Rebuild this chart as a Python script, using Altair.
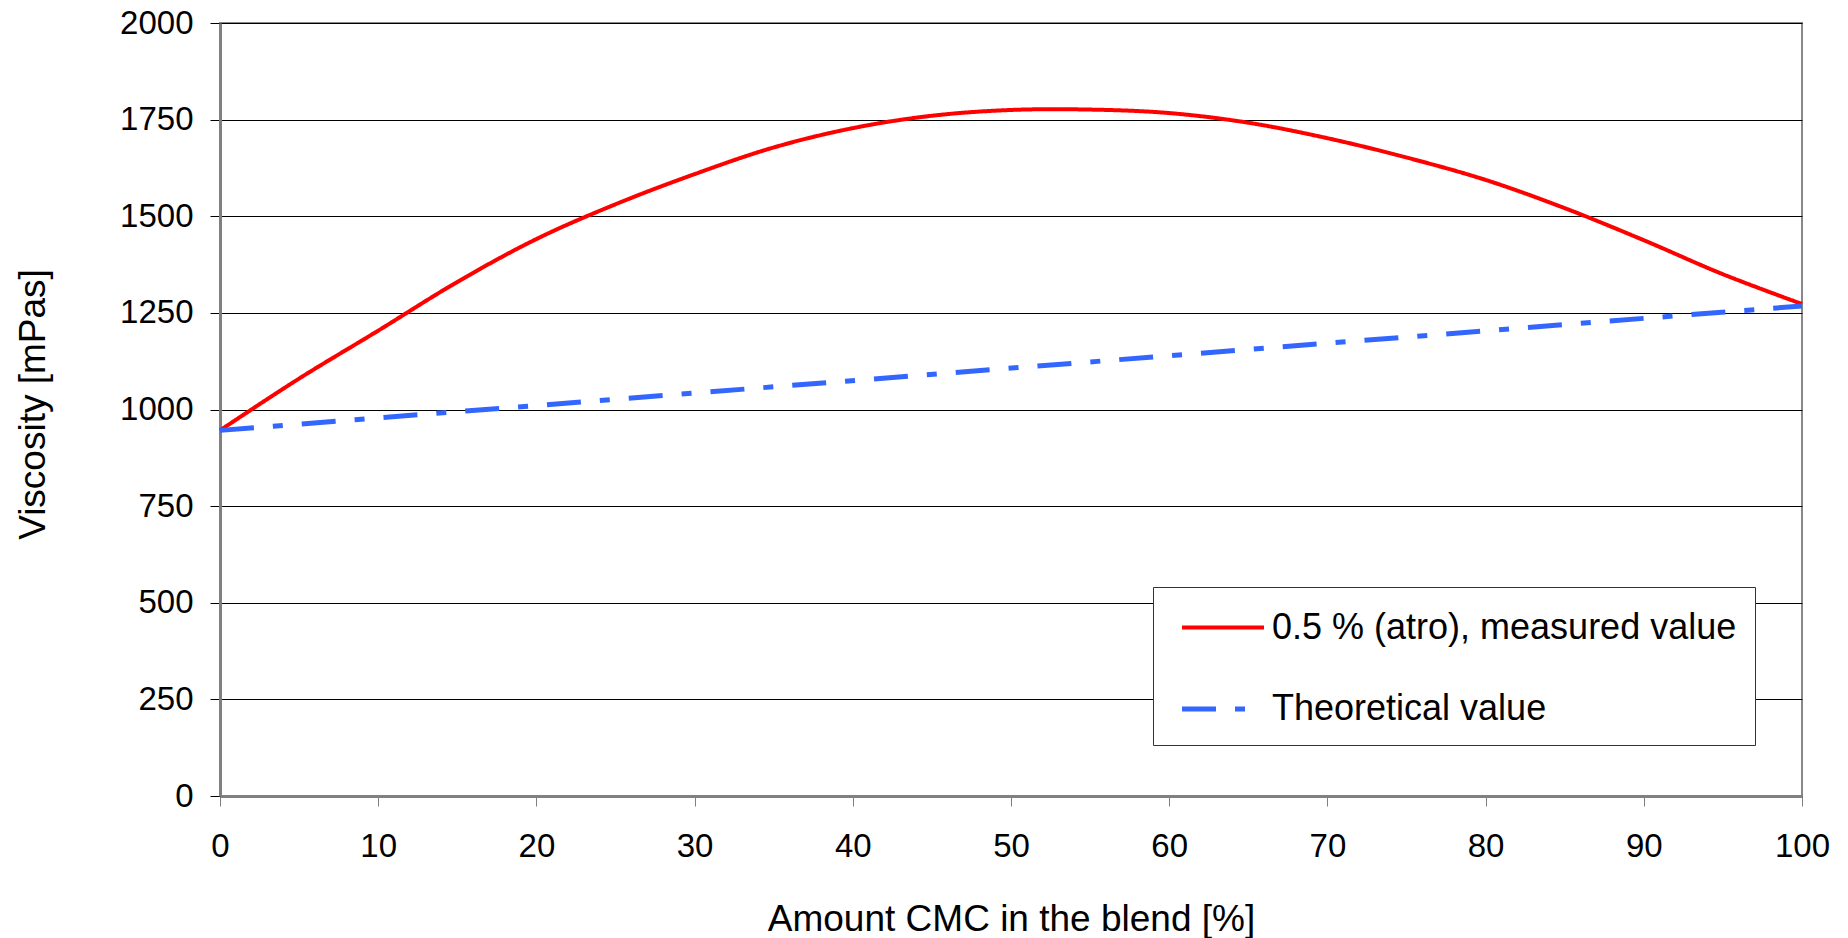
import altair as alt
import pandas as pd

# ---- data ----
S_MEASURED = "0.5 % (atro), measured value"
S_THEORY = "Theoretical value"

cmc_pct = [0, 5, 10, 15, 20, 25, 30, 35, 40, 45, 50, 55, 60, 65, 70, 75, 80, 85, 90, 95, 100]
measured = [946, 1080, 1204, 1330, 1441, 1531, 1609, 1678, 1728, 1760, 1775, 1776, 1767,
            1742, 1702, 1652, 1594, 1521, 1438, 1350, 1273]

theory_pct = [0, 100]
theory = [946, 1268]

x_ticks = [0, 10, 20, 30, 40, 50, 60, 70, 80, 90, 100]
y_ticks = [0, 250, 500, 750, 1000, 1250, 1500, 1750, 2000]

df = pd.DataFrame({
    "x": cmc_pct + theory_pct,
    "y": measured + theory,
    "s": [S_MEASURED] * len(cmc_pct) + [S_THEORY] * len(theory_pct),
})

FONT = "Liberation Sans"

legend = alt.Legend(
    title=None,
    orient="none",
    legendX=933,
    legendY=564,
    symbolType="M-2,0H2",
    symbolSize=1681,
    symbolStrokeWidth=4,
    symbolOffset=29,
    labelOffset=26,
    rowPadding=40,
    padding=18,
    strokeColor="#333333",
    fillColor="white",
    labelFont=FONT,
    labelFontSize=36,
    labelColor="black",
    labelLimit=0,
)

domain_series = [S_MEASURED, S_THEORY]

chart = alt.Chart(df).mark_line(interpolate="catmull-rom").encode(
    x=alt.X(
        "x:Q",
        scale=alt.Scale(domain=[0, 100], nice=False, zero=False),
        axis=alt.Axis(
            values=x_ticks,
            format="d",
            title="Amount CMC in the blend [%]",
            grid=False,
            domainColor="#808080",
            domainWidth=3,
            tickColor="#808080",
            tickSize=10,
            tickWidth=1,
            labelFont=FONT,
            labelFontSize=33,
            labelColor="black",
            labelPadding=24,
            labelFlush=False,
            labelOverlap=False,
            titleFont=FONT,
            titleFontSize=37,
            titleFontWeight="normal",
            titleColor="black",
            titleBaseline="alphabetic",
            titleY=134,
        ),
    ),
    y=alt.Y(
        "y:Q",
        scale=alt.Scale(domain=[0, 2000], nice=False, zero=False),
        axis=alt.Axis(
            values=y_ticks,
            format="d",
            title="Viscosity [mPas]",
            grid=True,
            gridColor="black",
            gridWidth=1,
            domainColor="#808080",
            domainWidth=3,
            tickColor="black",
            tickSize=10,
            tickWidth=1,
            labelFont=FONT,
            labelFontSize=33,
            labelColor="black",
            labelPadding=17,
            labelFlush=False,
            labelOverlap=False,
            titleFont=FONT,
            titleFontSize=37,
            titleFontWeight="normal",
            titleColor="black",
            titleAngle=270,
            titleAlign="center",
            titleBaseline="alphabetic",
            titleX=-176,
            titleY=381,
        ),
    ),
    color=alt.Color(
        "s:N",
        scale=alt.Scale(domain=domain_series, range=["#FF0000", "#3366FF"]),
        legend=legend,
    ),
    strokeDash=alt.StrokeDash(
        "s:N",
        scale=alt.Scale(domain=domain_series, range=[[1, 0], [34, 19, 10, 19]]),
        legend=legend,
    ),
    strokeWidth=alt.StrokeWidth(
        "s:N",
        scale=alt.Scale(domain=domain_series, range=[4, 5]),
        legend=None,
    ),
).properties(
    width=1582,
    height=773,
    autosize=alt.AutoSizeParams(type="none"),
    padding={"left": 220, "top": 23, "right": 46, "bottom": 142},
).configure_view(
    stroke="#888888",
    strokeWidth=2,
)

chart.save("out.html", embed_options={"renderer": "svg", "actions": False})
